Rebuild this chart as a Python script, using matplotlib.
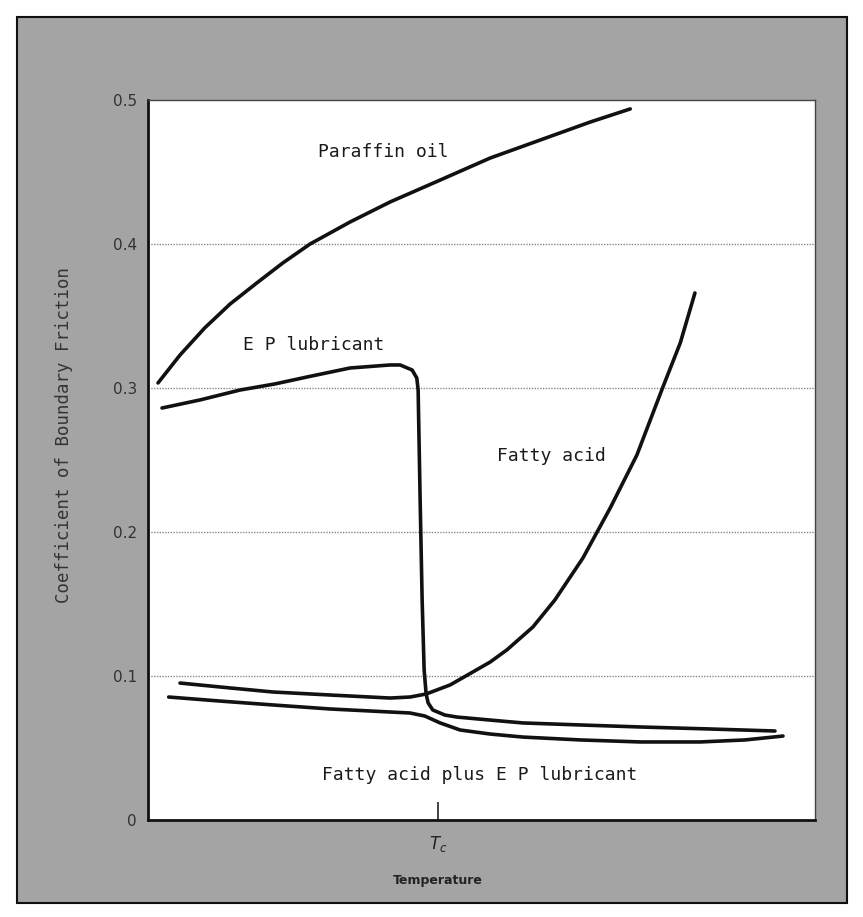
import matplotlib
matplotlib.use("Agg")
import matplotlib.pyplot as plt
from matplotlib.patches import Rectangle

# ---- data ----
paraffin_x = [1.5, 4.8, 8.5, 12.3, 16.3, 20.2, 24.3, 30.3, 36.3, 43.8, 51.3, 58.8, 66.3, 72.3]
paraffin_y = [0.3035, 0.3229, 0.3417, 0.3583, 0.3729, 0.3868, 0.4000, 0.4153, 0.4292,
              0.4444, 0.4597, 0.4722, 0.4847, 0.4938]

ep_x = [2.1, 7.8, 13.8, 19.0, 23.8, 30.3, 36.3, 37.8, 39.6, 40.3, 40.5, 40.8, 41.1, 41.4,
        41.7, 42.0, 42.7, 44.5, 46.3, 51.3, 56.2, 64.8, 73.8, 84.3, 94.0]
ep_y = [0.2861, 0.2917, 0.2986, 0.3028, 0.3076, 0.3139, 0.3160, 0.3160, 0.3125, 0.3069,
        0.2986, 0.2222, 0.1528, 0.1042, 0.0875, 0.0813, 0.0764, 0.0729, 0.0715, 0.0694,
        0.0674, 0.0660, 0.0646, 0.0632, 0.0618]

fatty_x = [4.8, 12.3, 18.7, 27.3, 36.3, 39.3, 41.7, 45.3, 48.7, 51.3, 53.8, 57.7, 61.0,
           65.2, 69.3, 73.3, 77.2, 79.8, 82.0]
fatty_y = [0.0951, 0.0917, 0.0889, 0.0868, 0.0847, 0.0854, 0.0875, 0.0938, 0.1028, 0.1097,
           0.1181, 0.1340, 0.1528, 0.1819, 0.2167, 0.2535, 0.3007, 0.3313, 0.3660]

combo_x = [3.1, 10.8, 18.7, 27.3, 36.3, 39.3, 41.5, 43.8, 46.8, 51.3, 56.2, 64.8, 73.8,
           82.8, 89.5, 95.2]
combo_y = [0.0854, 0.0826, 0.0799, 0.0771, 0.0750, 0.0743, 0.0722, 0.0674, 0.0625, 0.0597,
           0.0576, 0.0556, 0.0542, 0.0542, 0.0556, 0.0583]

y_ticks = [0, 0.1, 0.2, 0.3, 0.4, 0.5]
y_tick_labels = ["0", "0.1", "0.2", "0.3", "0.4", "0.5"]
grid_levels = [0.1, 0.2, 0.3, 0.4]
tc_position = 43.5

labels = {
    "Paraffin oil": (25.5, 0.464),
    "E P lubricant": (14.2, 0.330),
    "Fatty acid": (52.3, 0.253),
    "Fatty acid plus E P lubricant": (26.1, 0.031),
}

W, H = 863, 917
fig = plt.figure(figsize=(W / 100, H / 100), dpi=100)
fig.patch.set_facecolor("white")

# gray halftone background with frame
bg = Rectangle((17 / W, 1 - 903 / H), (847 - 17) / W, (903 - 17) / H,
               transform=fig.transFigure, facecolor="#a4a4a4",
               edgecolor="#111111", linewidth=1.5, zorder=-5)
fig.add_artist(bg)

ax = fig.add_axes([148 / W, 1 - 820 / H, (815 - 148) / W, (820 - 100) / H])
ax.set_zorder(1)
ax.set_facecolor("white")
ax.set_xlim(0, 100)
ax.set_ylim(0, 0.5)

for g in grid_levels:
    ax.axhline(g, color="#8a8a8a", lw=1.0, ls=(0, (1, 1)), zorder=1)

lw = 2.6
kw = dict(color="#111111", lw=lw, solid_capstyle="round", solid_joinstyle="round", zorder=3)
ax.plot(paraffin_x, paraffin_y, **kw)
ax.plot(ep_x, ep_y, **kw)
ax.plot(fatty_x, fatty_y, **kw)
ax.plot(combo_x, combo_y, **kw)

mono = "DejaVu Sans Mono"
for txt, (x, y) in labels.items():
    ax.text(x, y, txt, fontsize=13, family=mono, color="#1a1a1a",
            ha="left", va="center", zorder=4)

ax.set_yticks(y_ticks)
ax.set_yticklabels(y_tick_labels, fontsize=11, color="#333333")
ax.tick_params(axis="y", length=0, pad=8)

ax.set_xticks([tc_position])
ax.set_xticklabels(["$T_c$"], fontsize=12, color="#222222")
ax.tick_params(axis="x", direction="in", length=13, width=1.2, pad=10, color="#222222")

ax.set_xlabel("Temperature", fontsize=9, fontweight="bold", color="#222222")
ax.xaxis.set_label_coords(tc_position / 100, -0.075)
ax.set_ylabel("Coefficient of Boundary Friction", fontsize=12.5, family=mono, color="#333333")
ax.yaxis.set_label_coords(-0.112, 0.535)

for side in ["left", "bottom"]:
    ax.spines[side].set_linewidth(2.0)
    ax.spines[side].set_color("#111111")
for side in ["top", "right"]:
    ax.spines[side].set_linewidth(1.0)
    ax.spines[side].set_color("#444444")

fig.savefig("out.png", dpi=100)
